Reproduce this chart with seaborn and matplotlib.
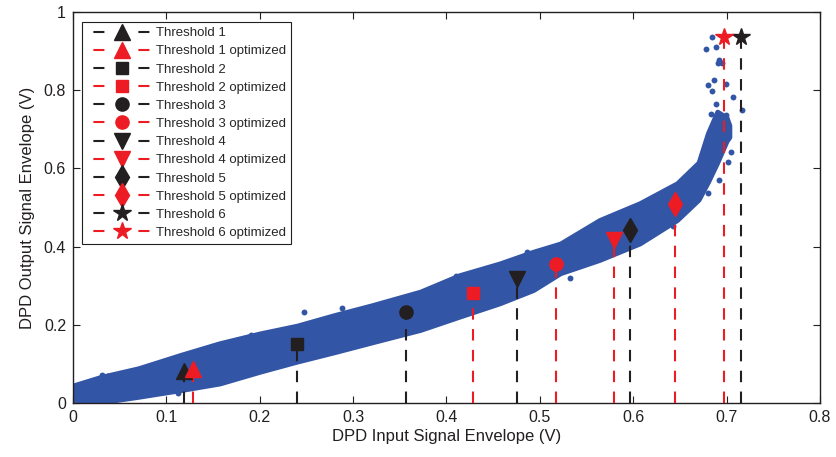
import matplotlib
matplotlib.use("Agg")
import matplotlib.pyplot as plt
from matplotlib.lines import Line2D
import seaborn as sns
import pandas as pd

# ---------------- data ----------------
# envelope of the dense scatter band
band_x = [0.0, 0.03, 0.07, 0.115, 0.157, 0.20, 0.24, 0.28, 0.32, 0.372, 0.414, 0.457, 0.493,
          0.522, 0.564, 0.607, 0.647, 0.67, 0.68, 0.69, 0.70, 0.703]
band_upper = [0.045, 0.067, 0.089, 0.123, 0.153, 0.178, 0.198, 0.225, 0.25, 0.285, 0.327, 0.357,
              0.387, 0.408, 0.468, 0.511, 0.562, 0.615, 0.69, 0.745, 0.73, 0.71]
band_lower = [0.0, 0.002, 0.016, 0.033, 0.05, 0.08, 0.106, 0.13, 0.155, 0.187, 0.221, 0.255,
              0.289, 0.332, 0.366, 0.408, 0.468, 0.52, 0.565, 0.615, 0.67, 0.68]

# isolated scatter points outside the band
out_x = [0.684, 0.678, 0.689, 0.692, 0.695, 0.691, 0.686, 0.680, 0.684, 0.699, 0.707, 0.716,
         0.689, 0.683, 0.699, 0.696, 0.705, 0.701, 0.692, 0.680, 0.643, 0.247, 0.288, 0.113,
         0.191, 0.031, 0.038, 0.58, 0.532, 0.486, 0.41]
out_y = [0.935, 0.905, 0.91, 0.877, 0.869, 0.869, 0.826, 0.813, 0.799, 0.816, 0.783, 0.748,
         0.765, 0.739, 0.737, 0.715, 0.643, 0.615, 0.570, 0.536, 0.453, 0.234, 0.242, 0.025,
         0.174, 0.072, 0.069, 0.478, 0.319, 0.387, 0.325]

thr_labels = ["Threshold 1", "Threshold 1 optimized", "Threshold 2", "Threshold 2 optimized",
              "Threshold 3", "Threshold 3 optimized", "Threshold 4", "Threshold 4 optimized",
              "Threshold 5", "Threshold 5 optimized", "Threshold 6", "Threshold 6 optimized"]
thr_x = [0.119, 0.129, 0.240, 0.428, 0.357, 0.517, 0.476, 0.579, 0.597, 0.645, 0.715, 0.697]
thr_y = [0.082, 0.086, 0.151, 0.281, 0.233, 0.355, 0.318, 0.418, 0.442, 0.509, 0.937, 0.937]

x_ticks = [0, 0.1, 0.2, 0.3, 0.4, 0.5, 0.6, 0.7, 0.8]
x_ticklabels = ["0", "0.1", "0.2", "0.3", "0.4", "0.5", "0.6", "0.7", "0.8"]
y_ticks = [0, 0.2, 0.4, 0.6, 0.8, 1.0]
y_ticklabels = ["0", "0.2", "0.4", "0.6", "0.8", "1"]

# ---------------- style ----------------
sns.set_style("ticks")
plt.rcParams["font.family"] = ["Liberation Sans", "DejaVu Sans"]
BLUE = "#3355A5"
RED = "#ED1C24"
BLACK = "#231F20"
markers = ["^", "^", "s", "s", "o", "o", "v", "v", "d", "d", "*", "*"]
msizes = [11, 11, 9, 9, 9.5, 9.5, 11, 11, 12, 12, 13, 13]
colors = [BLACK, RED] * 6

fig = plt.figure(figsize=(8.36, 4.57), dpi=100)
ax = fig.add_axes([0.0873, 0.118, 0.8935, 0.856])

# dense band
ax.fill_between(band_x, band_lower, band_upper, color=BLUE, lw=3.5, edgecolor=BLUE,
                joinstyle="round", zorder=1)
df_out = pd.DataFrame({"x": out_x, "y": out_y})
sns.scatterplot(data=df_out, x="x", y="y", ax=ax, color=BLUE, s=18, linewidth=0,
                zorder=2, legend=False)

# legend handle dash pattern: blank, dash, gap (marker), dash, blank
leg_ls = (29.97, (5.3, 16.3, 5.3, 6.13))

handles = []
for lab, xv, yv, m, ms, c in zip(thr_labels, thr_x, thr_y, markers, msizes, colors):
    ax.plot([xv, xv], [0, yv], color=c, lw=1.5, dashes=(5.5, 4.5), zorder=3)
    ax.plot([xv], [yv], marker=m, ms=ms, color=c, mec=c, ls="none", zorder=4)
    handles.append(Line2D([0], [0], color=c, lw=1.5, ls=leg_ls, marker=m,
                          ms=ms, mec=c, label=lab))

ax.set_xlim(0, 0.8)
ax.set_ylim(0, 1)
ax.set_xticks(x_ticks)
ax.set_xticklabels(x_ticklabels)
ax.set_yticks(y_ticks)
ax.set_yticklabels(y_ticklabels)
ax.tick_params(direction="in", top=True, right=True, length=5, width=0.8,
               labelsize=11.5, colors=BLACK, pad=5)
for sp in ax.spines.values():
    sp.set_visible(True)
    sp.set_linewidth(1.0)
    sp.set_color(BLACK)
ax.set_xlabel("DPD Input Signal Envelope (V)", fontsize=12, color=BLACK, labelpad=3)
ax.set_ylabel("DPD Output Signal Envelope (V)", fontsize=12, color=BLACK, labelpad=6)

leg = ax.legend(handles=handles, loc="upper left", bbox_to_anchor=(0.012, 0.975),
                borderaxespad=0, fontsize=9.5, handlelength=5.21, handletextpad=0.0,
                labelspacing=0.45, borderpad=0.4, fancybox=False, frameon=True,
                edgecolor=BLACK, framealpha=1)
leg.get_frame().set_linewidth(0.8)

fig.savefig("out.png", dpi=100)
